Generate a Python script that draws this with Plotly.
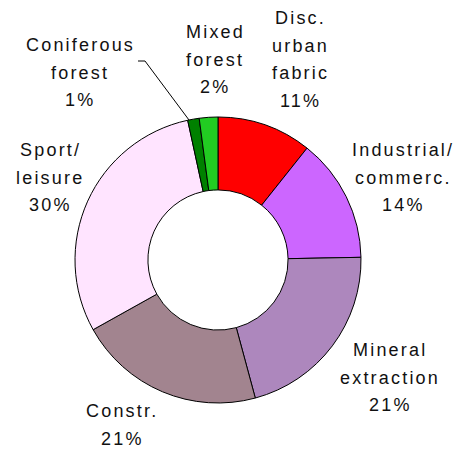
import plotly.graph_objects as go

# ---- data ----
categories = ["Disc. urban fabric", "Industrial/ commerc.", "Mineral extraction",
              "Constr.", "Sport/ leisure", "Coniferous forest", "Mixed forest"]
label_lines = [["Disc.", "urban", "fabric"], ["Industrial/", "commerc."], ["Mineral", "extraction"],
               ["Constr."], ["Sport/", "leisure"], ["Coniferous", "forest"], ["Mixed", "forest"]]
values = [10.7, 14.0, 21.1, 21.1, 29.7, 1.3, 2.1]
colors = ["#FF0000", "#CC66FF", "#AD87BD", "#A2848F", "#FFE4FF", "#008000", "#22CC22"]

OFF = 8  # page body margin
W, H = 463 - OFF, 450 - OFF
cx, cy, R = 218 - OFF, 260 - OFF, 143

fig = go.Figure(go.Pie(
    labels=categories, values=values, sort=False, direction="clockwise", rotation=0,
    hole=0.49, textinfo="none", showlegend=False,
    marker=dict(colors=colors, line=dict(color="black", width=1)),
    domain=dict(x=[(cx - R) / W, (cx + R) / W], y=[(H - cy - R) / H, (H - cy + R) / H]),
))

# label block layout: (center x, first line y) in page pixels, line spacing
label_pos = [(300, 18), (403, 150), (390, 350), (122, 411), (50, 150), (80, 45), (215, 32)]
line_gap = 27.5
total = sum(values)
font = dict(family="Liberation Sans", size=18, color="#111111")
annotations = []
for lines, v, (px, py) in zip(label_lines, values, label_pos):
    all_lines = lines + [f"{round(v / total * 100)}%"]
    for i, t in enumerate(all_lines):
        annotations.append(dict(
            text=f'<span style="letter-spacing:2.2px">{t}</span>',
            x=(px - OFF) / W, y=1 - (py - OFF + i * line_gap) / H,
            xref="paper", yref="paper",
            showarrow=False, xanchor="center", yanchor="middle", font=font))

def P(x, y):
    return (x - OFF) / W, 1 - (y - OFF) / H

(a0, b0), (a1, b1), (a2, b2) = P(138, 61), P(145, 61), P(189, 120)
fig.update_layout(
    width=W, height=H, margin=dict(l=0, r=0, t=0, b=0),
    paper_bgcolor="white", plot_bgcolor="white", annotations=annotations,
    shapes=[
        dict(type="line", xref="paper", yref="paper", x0=a0, y0=b0, x1=a1, y1=b1,
             line=dict(color="black", width=1)),
        dict(type="line", xref="paper", yref="paper", x0=a1, y0=b1, x1=a2, y1=b2,
             line=dict(color="black", width=1)),
    ],
)
fig.write_html("out.html")
